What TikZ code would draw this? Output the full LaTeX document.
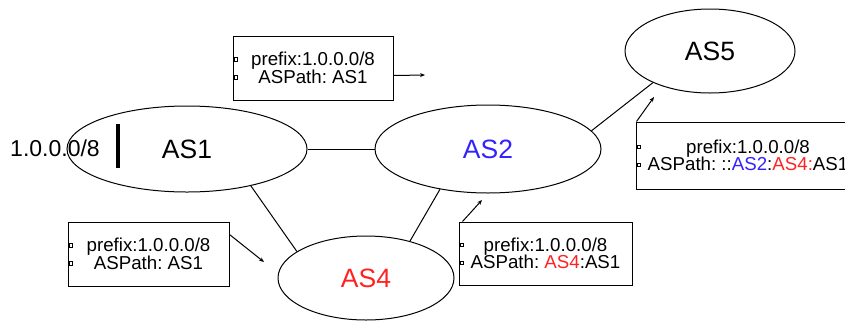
\documentclass[tikz,border=0pt]{standalone}
\usepackage{fontspec}
\setmainfont{Liberation Sans}
\usetikzlibrary{shapes.geometric,arrows.meta,calc}
\definecolor{asblue}{RGB}{51,34,255}
\definecolor{asred}{RGB}{255,34,34}
\frenchspacing
\newcommand{\boxmarks}[1]{%
  \draw[line width=0.5pt] ([shift={(1.5,-7)}]#1.west) rectangle ++(3.5,-3.5);
  \draw[line width=0.5pt] ([shift={(1.5,11)}]#1.west) rectangle ++(3.5,-3.5);}
\begin{document}
\begin{tikzpicture}[x=1pt,y=-1pt,
  asnode/.style={ellipse,draw,line width=1pt,inner sep=0pt,font=\fontsize{26.5}{30}\selectfont},
  msgbox/.style={rectangle,draw,line width=1pt,inner sep=0pt,align=center,
    font=\fontsize{18.7}{17.5}\selectfont},
  link/.style={line width=1pt},
  msgarrow/.style={line width=1pt,-{Stealth[length=5pt,width=4pt]}}]
\useasboundingbox (0,0) rectangle (845,322);
% AS nodes
\node[asnode,minimum width=240pt,minimum height=86pt] (as1) at (187,149) {AS1};
\node[asnode,minimum width=226pt,minimum height=88pt,text=asblue] (as2) at (488,149) {AS2};
\node[asnode,minimum width=170pt,minimum height=84pt] (as5) at (710,51) {AS5};
\node[asnode,minimum width=176pt,minimum height=84pt,text=asred] (as4) at (366,278) {AS4};
% prefix label and origin bar
\node[font=\fontsize{23}{26}\selectfont,inner sep=0pt] (pfx) at (55,148) {1.0.0.0/8};
\draw[line width=4pt] (118,124) -- (118,168);
% links
\draw[link] (as1.east) -- (as2.west);
\draw[link] (as1.-30) -- (as4.159);
\draw[link] (as2.220) -- (as4.40);
\draw[link] (as2.10) -- (as5.209);
% message boxes
\node[msgbox,minimum width=160pt,minimum height=64pt] (b1) at (313,68)
  {prefix:1.0.0.0/8\\ASPath: AS1};
\node[msgbox,minimum width=161pt,minimum height=64pt] (bl) at (148.5,254)
  {prefix:1.0.0.0/8\\ASPath: AS1};
\node[msgbox,minimum width=173pt,minimum height=63pt] (br) at (545.5,253.5)
  {prefix:1.0.0.0/8\\ASPath: \textcolor{asred}{AS4}:AS1};
\node[msgbox,minimum width=224pt,minimum height=67pt] (bx) at (748,155.5)
  {prefix:1.0.0.0/8\\ASPath: ::\textcolor{asblue}{AS2}:\textcolor{asred}{AS4:}AS1};
\boxmarks{b1}
\boxmarks{bl}
\boxmarks{br}
\boxmarks{bx}
% arrow targets
\coordinate (t1) at (425,75);
\coordinate (tl) at (264,262);
\coordinate (tr) at (482,200);
\coordinate (tx) at (654,97);
\draw[msgarrow] ($(b1.north east)+(0,40)$) -- (t1);
\draw[msgarrow] ($(bl.north east)+(0,13)$) -- (tl);
\draw[msgarrow] ($(br.north west)+(4,0)$) -- (tr);
\draw[msgarrow] ($(bx.north west)+(1,0)$) -- (tx);
\end{tikzpicture}
\end{document}
